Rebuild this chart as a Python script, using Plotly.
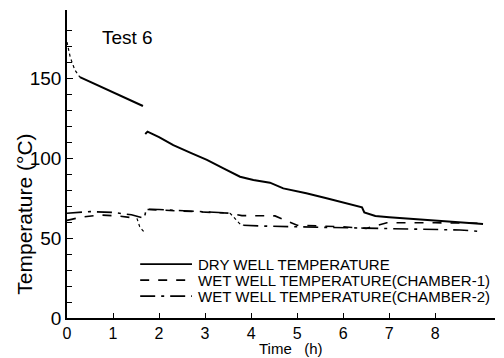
import plotly.graph_objects as go

# Dry well temperature (dotted start, solid, gap, solid)
dry_start_t = [0.0, 0.07, 0.17, 0.28]
dry_start_T = [172.5, 163, 155, 150.5]
dry1_t = [0.28, 0.5, 1.0, 1.65]
dry1_T = [150.5, 147.6, 141, 132.5]
dry2_t = [1.70, 1.75, 2.0, 2.31, 2.7, 3.04, 3.4, 3.76, 4.05, 4.41, 4.7, 5.2, 5.64, 6.0, 6.41,
          6.46, 6.7, 7.0, 8.0, 9.04]
dry2_T = [115, 116.5, 113, 108, 103, 98.8, 93.5, 88.3, 86.3, 84.6, 81, 78, 74.8, 72.3, 69.2,
          66, 63.8, 63, 61, 58.8]

# Wet well chamber-1 (dashed)
wet1a_t = [0.0, 0.3, 0.72, 1.1, 1.52]
wet1a_T = [61, 63, 64.4, 63.8, 62.3]
wet1_drop_t = [1.52, 1.58, 1.65, 1.70]
wet1_drop_T = [62.3, 57, 54.5, 54]
wet1b_t = [1.75, 2.5, 3.0, 3.54, 3.8, 4.52, 5.0, 5.5, 6.0, 6.5, 6.95, 8.0, 9.04]
wet1b_T = [67.8, 67, 66.3, 65.5, 64, 63.8, 58, 57.5, 57, 56, 59.5, 59.5, 59.2]

# Wet well chamber-2 (dash-dot)
wet2a_t = [0.0, 0.5, 1.0, 1.4, 1.68, 1.72, 2.0, 2.74, 3.0, 3.54]
wet2a_T = [65.5, 66.5, 66, 64.5, 62.3, 68, 67.8, 66.6, 66.3, 65.6]
wet2_drop_t = [3.54, 3.65, 3.75, 3.83]
wet2_drop_T = [65.6, 62, 59, 58]
wet2b_t = [3.83, 4.2, 5.0, 6.0, 7.0, 8.0, 8.54, 9.04]
wet2b_T = [58, 57.5, 57, 56.5, 56, 55.5, 55, 54]

legend_names = ['DRY WELL TEMPERATURE',
                'WET WELL TEMPERATURE(CHAMBER-1)',
                'WET WELL TEMPERATURE(CHAMBER-2)']
legend_dashes = ['solid', 'dash', 'longdashdot']

FONT = "Liberation Sans, Arial, sans-serif"

fig = go.Figure()

def add(x, y, dash, width):
    fig.add_trace(go.Scatter(
        x=x, y=y, mode='lines', showlegend=False,
        line=dict(color='black', width=width, dash=dash)
    ))

add(dry_start_t, dry_start_T, 'dot', 1.2)
add(dry1_t, dry1_T, 'solid', 2)
add(dry2_t, dry2_T, 'solid', 2)
add(wet1a_t, wet1a_T, 'dash', 1.6)
add(wet1_drop_t, wet1_drop_T, 'dot', 1.2)
add(wet1b_t, wet1b_T, 'dash', 1.6)
add(wet2a_t, wet2a_T, 'longdashdot', 1.6)
add(wet2_drop_t, wet2_drop_T, 'dot', 1.2)
add(wet2b_t, wet2b_T, 'longdashdot', 1.6)

# hand-made legend (tight rows like the original)
for i, (name, dash) in enumerate(zip(legend_names, legend_dashes)):
    ly = 0.175 - i * 0.052
    fig.add_shape(type='line', xref='paper', yref='paper', x0=0.171, x1=0.292, y0=ly, y1=ly,
                  line=dict(color='black', width=1.6, dash=dash))
    fig.add_annotation(text=name, x=0.302, y=ly, xref='paper', yref='paper',
                       xanchor='left', yanchor='middle', showarrow=False,
                       font=dict(size=15, family=FONT, color='black'))

fig.add_annotation(text='Test 6', x=0.1425, y=0.912, xref='paper', yref='paper',
                   xanchor='center', yanchor='middle',
                   showarrow=False, font=dict(size=19, family=FONT, color='black'))
fig.add_annotation(text='Temperature (°C)', x=-0.1, y=0.336, xref='paper', yref='paper',
                   xanchor='center', yanchor='middle',
                   textangle=-90, showarrow=False, font=dict(size=21, family=FONT, color='black'))
fig.add_annotation(text='Time   (h)', x=0.523, y=-0.131, xref='paper', yref='paper',
                   xanchor='center', yanchor='bottom', borderpad=0,
                   showarrow=False, font=dict(size=15, family=FONT, color='black'))

fig.update_layout(
    width=496, height=350,
    margin=dict(l=59, r=9, t=2, b=40),
    paper_bgcolor='white', plot_bgcolor='white',
    font=dict(family=FONT, size=19, color='black'),
    xaxis=dict(range=[0, 9.3], tickvals=[0, 1, 2, 3, 4, 5, 6, 7, 8],
               showline=True, linecolor='black', linewidth=1.5, showgrid=False, zeroline=False,
               ticks='inside', ticklen=5, tickcolor='black', tickfont=dict(size=16)),
    yaxis=dict(range=[0, 192.5], tickvals=[0, 50, 100, 150],
               showline=True, linecolor='black', linewidth=1.5, showgrid=False, zeroline=False,
               ticks='inside', ticklen=6, tickcolor='black', tickfont=dict(size=19),
               minor=dict(tickvals=[10, 20, 30, 40, 60, 70, 80, 90, 110, 120, 130, 140, 160, 170, 180],
                          ticks='inside', ticklen=5, tickcolor='black')),
    showlegend=False,
)

fig.write_html("out.html")
